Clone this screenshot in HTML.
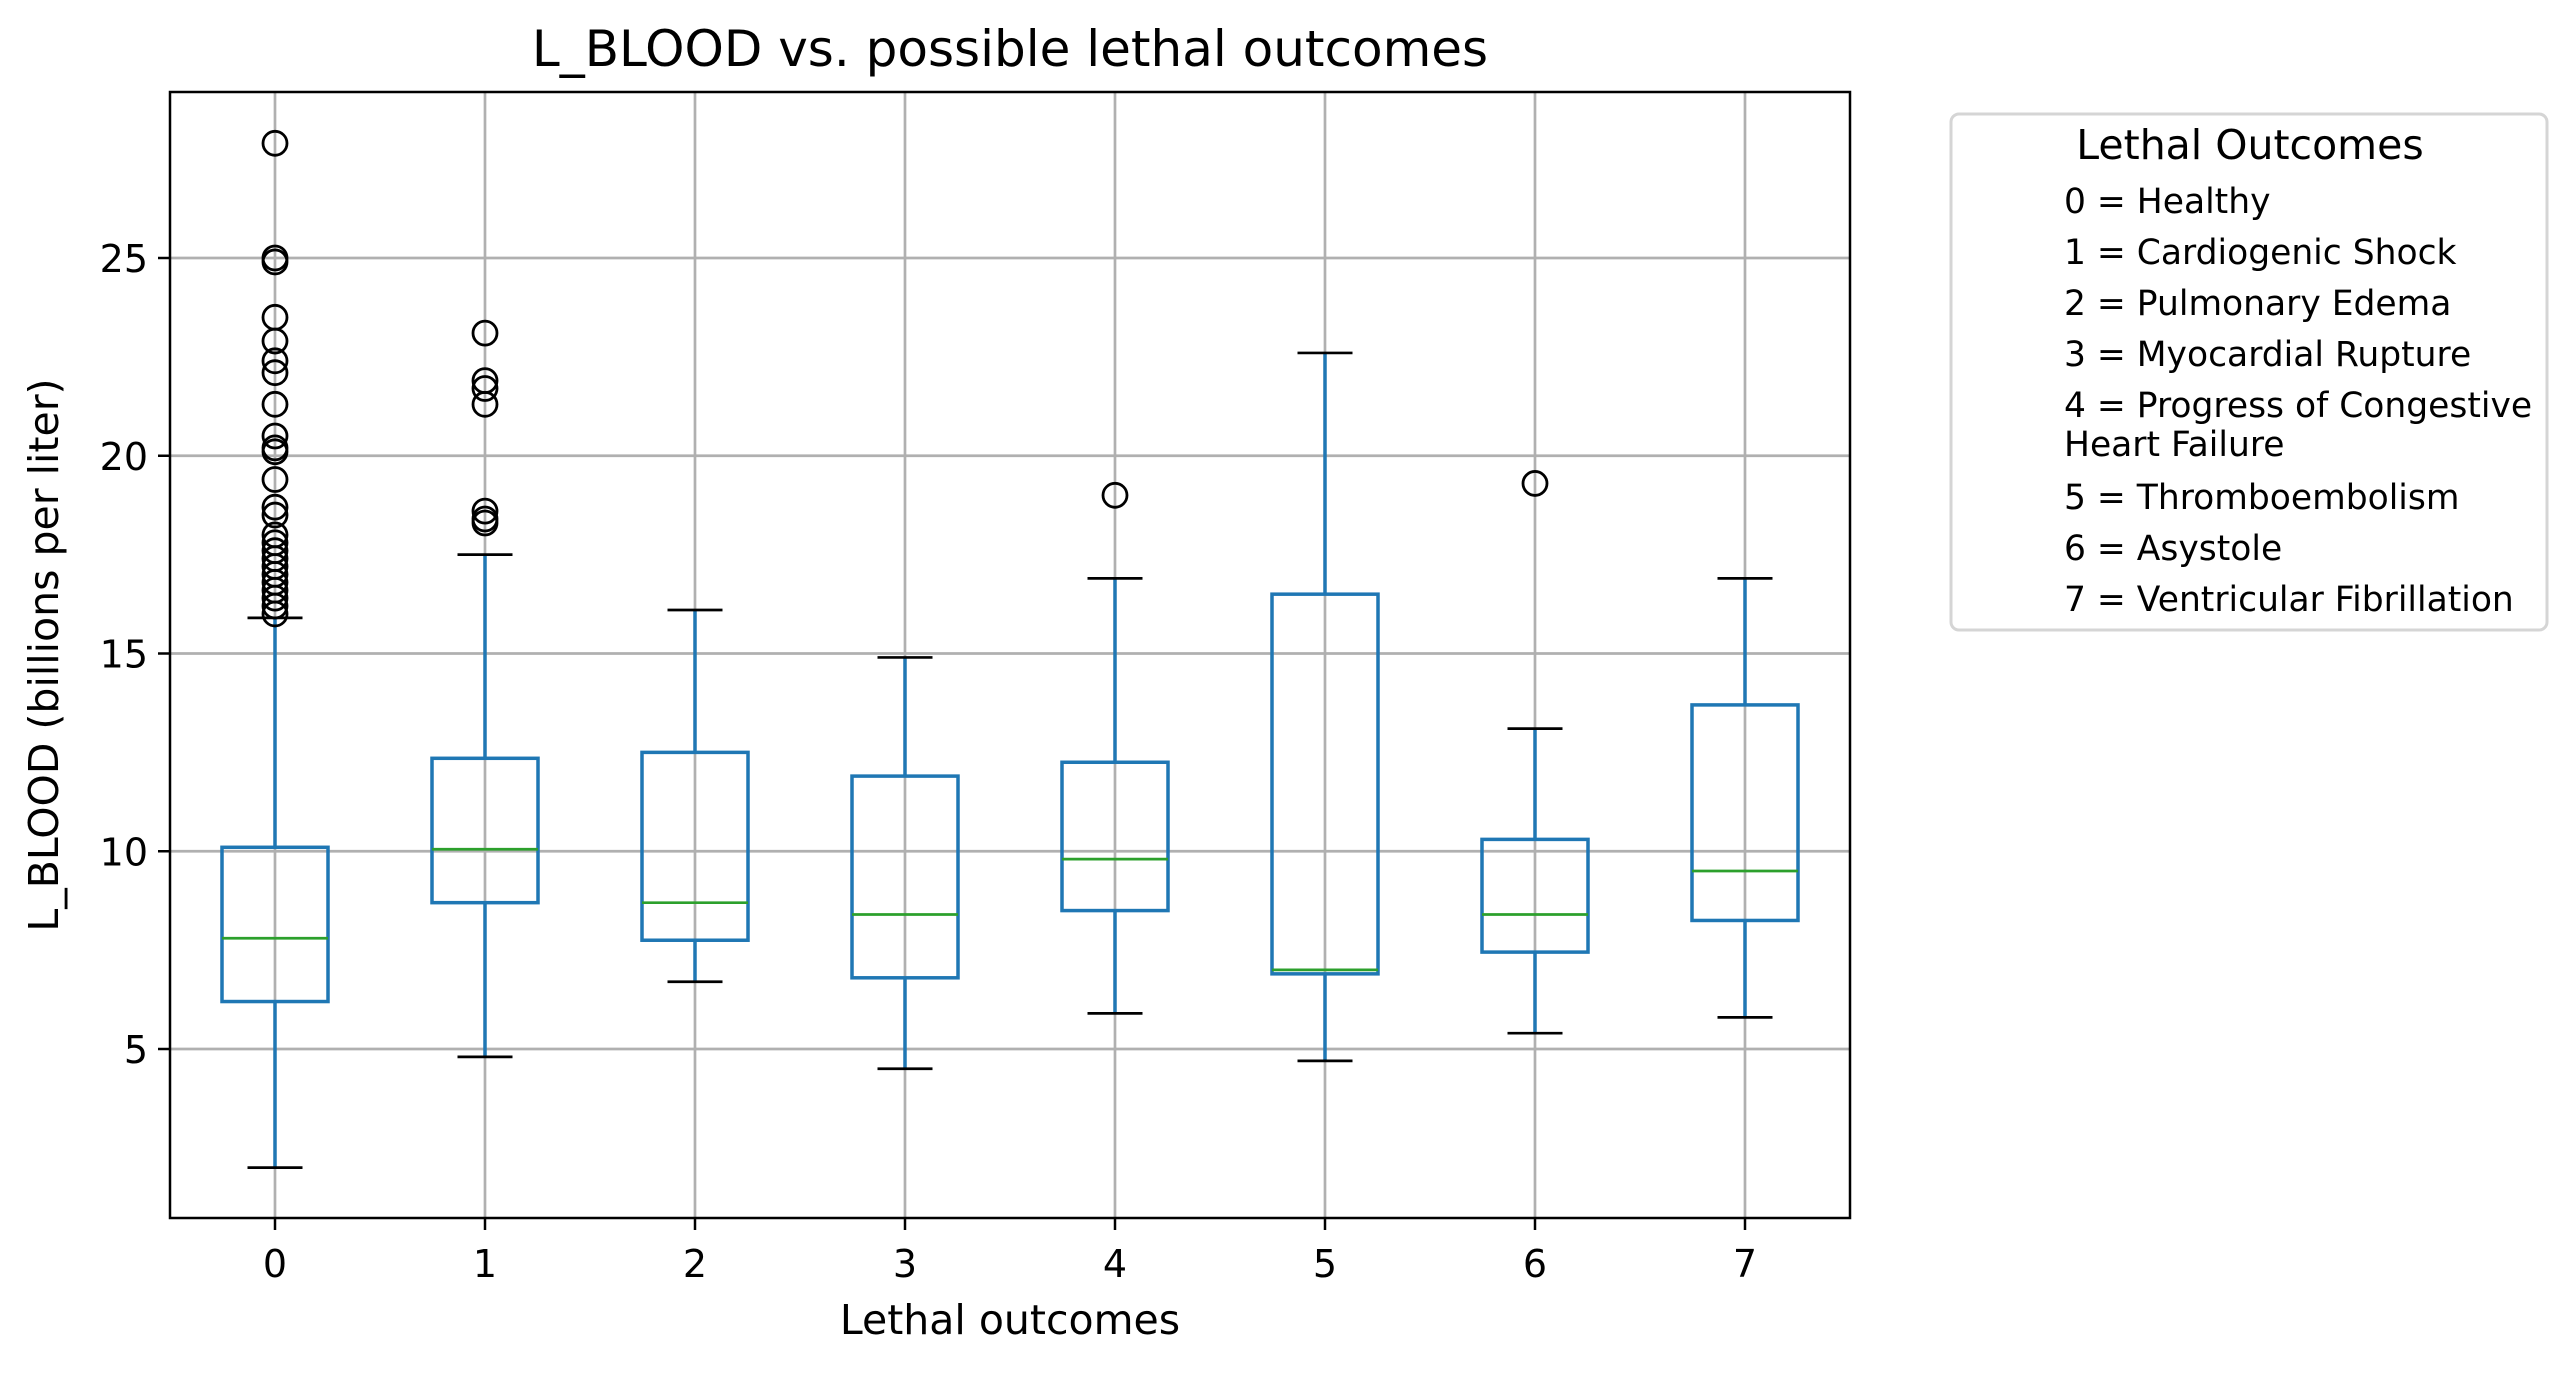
<!DOCTYPE html>
<html><head><meta charset="utf-8"><style>
html,body{margin:0;padding:0;background:#fff;}
svg text{font-family:"DejaVu Sans","Liberation Sans",sans-serif;fill:#000;}
</style></head><body>
<svg id="chart" width="2576" height="1373" viewBox="0 0 2576 1373" xmlns="http://www.w3.org/2000/svg">
<rect width="2576" height="1373" fill="#fff"/>
<text x="1010" y="66" font-size="50" text-anchor="middle">L_BLOOD vs. possible lethal outcomes</text>
<g id="grid"></g>
<g id="boxes"></g>
<rect x="170" y="92" width="1680" height="1126" fill="none" stroke="#000" stroke-width="2.5"/>
<g id="ticks"></g>
<text x="1010" y="1334" font-size="41" text-anchor="middle">Lethal outcomes</text>
<text transform="translate(58,655) rotate(-90)" font-size="41" text-anchor="middle">L_BLOOD (billions per liter)</text>
<g>
<rect x="1951" y="114" width="596" height="516" rx="8" fill="#fff" stroke="#d5d5d5" stroke-width="3"/>
<text x="2250" y="159" font-size="41" text-anchor="middle">Lethal Outcomes</text>
<g id="legend-entries" font-size="34.5"></g>
</g>
</svg>
<script>
const categories = ["0","1","2","3","4","5","6","7"];
const whiskerLow = [2.0, 4.8, 6.7, 4.5, 5.9, 4.7, 5.4, 5.8];
const q1 = [6.2, 8.7, 7.75, 6.8, 8.5, 6.9, 7.45, 8.25];
const medians = [7.8, 10.05, 8.7, 8.4, 9.8, 7.0, 8.4, 9.5];
const q3 = [10.1, 12.35, 12.5, 11.9, 12.25, 16.5, 10.3, 13.7];
const whiskerHigh = [15.9, 17.5, 16.1, 14.9, 16.9, 22.6, 13.1, 16.9];
const outliers = [
  [27.9,25.0,24.9,23.5,22.9,22.4,22.1,21.3,20.5,20.2,20.1,19.4,18.7,18.5,18.0,17.8,17.6,17.4,17.2,17.0,16.8,16.6,16.4,16.2,16.0],
  [23.1,21.9,21.7,21.3,18.6,18.4,18.3],
  [],[],
  [19.0],
  [],
  [19.3],
  []
];
const yTicks = [5,10,15,20,25];
const legendLines = ["0 = Healthy","1 = Cardiogenic Shock","2 = Pulmonary Edema","3 = Myocardial Rupture","4 = Progress of Congestive","Heart Failure","5 = Thromboembolism","6 = Asystole","7 = Ventricular Fibrillation"];
const legendY = [213,264,315,366,417,456,509,560,611];

const NS = "http://www.w3.org/2000/svg";
function yScale(v){ return 1049 - (v-5)*39.55; }
function xScale(i){ return 275 + 210*i; }
function mk(tag, attrs, parent){ const e=document.createElementNS(NS,tag); for(const k in attrs) e.setAttribute(k,attrs[k]); parent.appendChild(e); return e; }
const grid=document.getElementById('grid'), boxes=document.getElementById('boxes'), ticks=document.getElementById('ticks');
yTicks.forEach(t=>{
  const y=yScale(t);
  const g=mk('line',{x1:170,x2:1850,y1:y,y2:y,stroke:'#b0b0b0','stroke-width':2.7},grid);
  
  
  const tk=mk('line',{x1:158,x2:170,y1:y,y2:y,stroke:'#000','stroke-width':2.5},ticks);
  
  
  const tx=mk('text',{x:148,y:y+14,'font-size':38,'text-anchor':'end'},ticks);
  tx.textContent=t;
  
  
});
categories.forEach((c,i)=>{
  const x=xScale(i);
  const g=mk('line',{x1:x,x2:x,y1:92,y2:1218,stroke:'#b0b0b0','stroke-width':2.7},grid);
  
  
  const tk=mk('line',{x1:x,x2:x,y1:1218,y2:1230,stroke:'#000','stroke-width':2.5},ticks);
  
  
  const tx=mk('text',{x:x,y:1277,'font-size':38,'text-anchor':'middle'},ticks);
  tx.textContent=c;
  
  
  const g2=mk('g',{},boxes);
  
  
  const blue='#1f77b4';
  mk('line',{x1:x,x2:x,y1:yScale(whiskerLow[i]),y2:yScale(q1[i]),stroke:blue,'stroke-width':3.5},g2);
  mk('line',{x1:x,x2:x,y1:yScale(q3[i]),y2:yScale(whiskerHigh[i]),stroke:blue,'stroke-width':3.5},g2);
  mk('line',{x1:x-27.5,x2:x+27.5,y1:yScale(whiskerLow[i]),y2:yScale(whiskerLow[i]),stroke:'#000','stroke-width':2.7},g2);
  mk('line',{x1:x-27.5,x2:x+27.5,y1:yScale(whiskerHigh[i]),y2:yScale(whiskerHigh[i]),stroke:'#000','stroke-width':2.7},g2);
  mk('rect',{x:x-53,y:yScale(q3[i]),width:106,height:yScale(q1[i])-yScale(q3[i]),fill:'none',stroke:blue,'stroke-width':3.5},g2);
  mk('line',{x1:x-53,x2:x+53,y1:yScale(medians[i]),y2:yScale(medians[i]),stroke:'#2ca02c','stroke-width':2.7},g2);
  outliers[i].forEach(v=>{
    const o=mk('circle',{cx:x,cy:yScale(v),r:12,fill:'none',stroke:'#000','stroke-width':2.8},g2);
    
    
  });
});
const le=document.getElementById('legend-entries');
legendLines.forEach((s,i)=>{
  const t=mk('text',{x:2064,y:legendY[i]},le);
  t.textContent=s;
  
  
});
</script>
</body></html>
